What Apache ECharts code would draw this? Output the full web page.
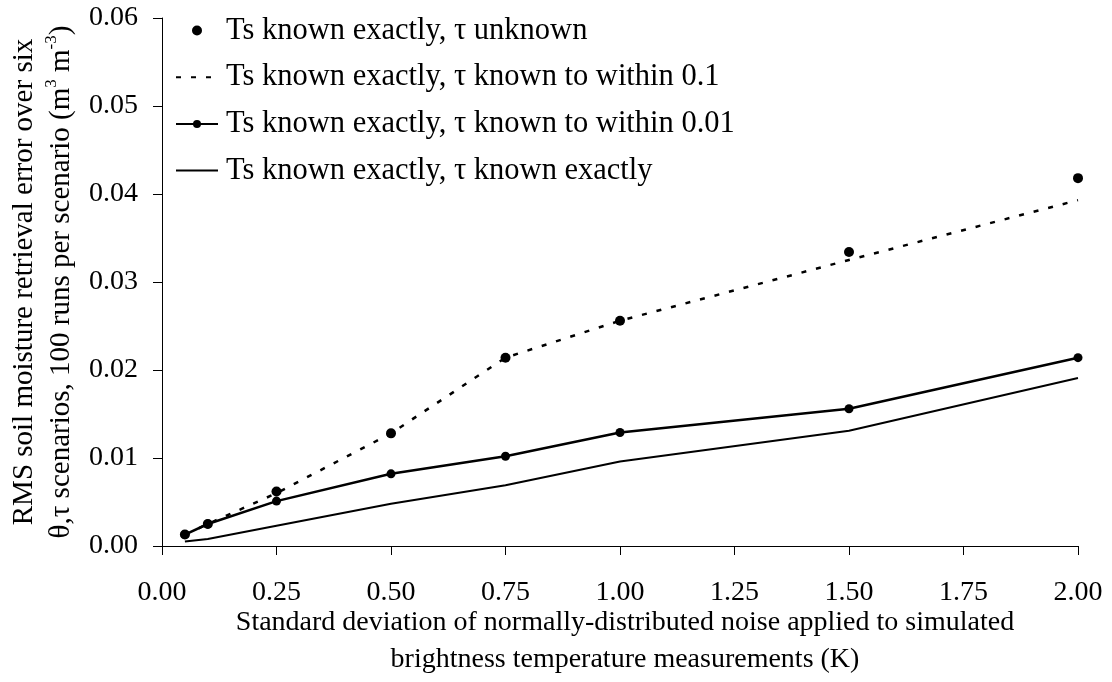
<!DOCTYPE html>
<html><head><meta charset="utf-8">
<script src="https://cdn.jsdelivr.net/npm/echarts@6/dist/echarts.min.js"></script>
<style>html,body{margin:0;padding:0;background:#fff}#c{width:1112px;height:682px}</style>
</head><body><div id="c"></div>
<script>
const xValues = [0.05, 0.10, 0.25, 0.50, 0.75, 1.00, 1.50, 2.00];
const tauUnknown = [0.0013, 0.0025, 0.0062, 0.0128, 0.0214, 0.0256, 0.0334, 0.0418];
const tauWithin01 = [0.0013, 0.0025, 0.0060, 0.0128, 0.0214, 0.0256, 0.0325, 0.0393];
const tauWithin001 = [0.0013, 0.0025, 0.0051, 0.0082, 0.0102, 0.0129, 0.0156, 0.0214];
const tauExact = [0.0005, 0.0008, 0.0023, 0.0048, 0.0069, 0.0096, 0.0131, 0.0191];
const seriesNames = [
  'Ts known exactly, \u03c4 unknown',
  'Ts known exactly, \u03c4 known to within 0.1',
  'Ts known exactly, \u03c4 known to within 0.01',
  'Ts known exactly, \u03c4 known exactly'
];
const xTitle = 'Standard deviation of normally-distributed noise applied to simulated\nbrightness temperature measurements (K)';
const FONT = '"Liberation Serif", "Times New Roman", serif';
const pair = arr => xValues.map((x, i) => [x, arr[i]]);

const chart = echarts.init(document.getElementById('c'), null, {renderer: 'canvas'});
chart.setOption({
  animation: false,
  backgroundColor: '#fff',
  textStyle: {fontFamily: FONT, color: '#000'},
  grid: {left: 162, right: 34, top: 18, bottom: 136},
  legend: {
    orient: 'vertical', left: 170, top: 10, itemWidth: 42, itemHeight: 10, itemGap: 15.7,
    textStyle: {fontFamily: FONT, fontSize: 30.5, color: '#000', padding: [0, 0, 0, 3]},
    data: [
      {name: seriesNames[0], icon: 'circle', itemStyle: {opacity: 1, color: '#000'}},
      {name: seriesNames[1], itemStyle: {opacity: 0}},
      {name: seriesNames[2]},
      {name: seriesNames[3], itemStyle: {opacity: 0}}
    ]
  },
  xAxis: {
    type: 'value', min: 0, max: 2, interval: 0.25,
    axisLine: {lineStyle: {color: '#000', width: 1}},
    axisTick: {show: true, length: 9, lineStyle: {color: '#000'}},
    splitLine: {show: false},
    axisLabel: {fontFamily: FONT, fontSize: 28, color: '#000', margin: 33, formatter: v => v.toFixed(2)}
  },
  yAxis: {
    type: 'value', min: 0, max: 0.06, interval: 0.01,
    axisLine: {show: true, lineStyle: {color: '#000', width: 1}},
    axisTick: {show: true, length: 9, lineStyle: {color: '#000'}},
    splitLine: {show: false},
    axisLabel: {fontFamily: FONT, fontSize: 28, color: '#000', margin: 24, formatter: v => v.toFixed(2)}
  },
  graphic: [{
    type: 'text', rotation: Math.PI / 2, x: 43, y: 282,
    style: {
      text: '{n|RMS soil moisture retrieval error over six}\n{n|\u03b8,\u03c4 scenarios, 100 runs per scenario (m}{s|3}{n| m}{s|-3}{n|)}',
      font: '29px ' + FONT, fill: '#000', align: 'center', verticalAlign: 'middle',
      rich: {
        n: {fontFamily: FONT, fontSize: 29, lineHeight: 37, fill: '#000'},
        s: {fontFamily: FONT, fontSize: 17, lineHeight: 37, verticalAlign: 'top', fill: '#000'}
      }
    }
  }, {
    type: 'text', x: 625, y: 641,
    style: {
      text: xTitle, font: '28px ' + FONT, fill: '#000', align: 'center', verticalAlign: 'middle',
      lineHeight: 37
    }
  }],
  series: [
    {name: seriesNames[0], type: 'scatter', data: pair(tauUnknown), symbol: 'circle', symbolSize: 10,
      itemStyle: {color: '#000', opacity: 1}, z: 5},
    {name: seriesNames[1], type: 'line', data: pair(tauWithin01), symbol: 'none',
      lineStyle: {color: '#000', width: 2.5, type: [5, 10]}, itemStyle: {color: '#000'}},
    {name: seriesNames[2], type: 'line', data: pair(tauWithin001), symbol: 'circle', symbolSize: 9, showAllSymbol: true,
      lineStyle: {color: '#000', width: 2.5}, itemStyle: {color: '#000', borderWidth: 0}},
    {name: seriesNames[3], type: 'line', data: pair(tauExact), symbol: 'none',
      lineStyle: {color: '#000', width: 2}, itemStyle: {color: '#000'}}
  ]
});
</script></body></html>
